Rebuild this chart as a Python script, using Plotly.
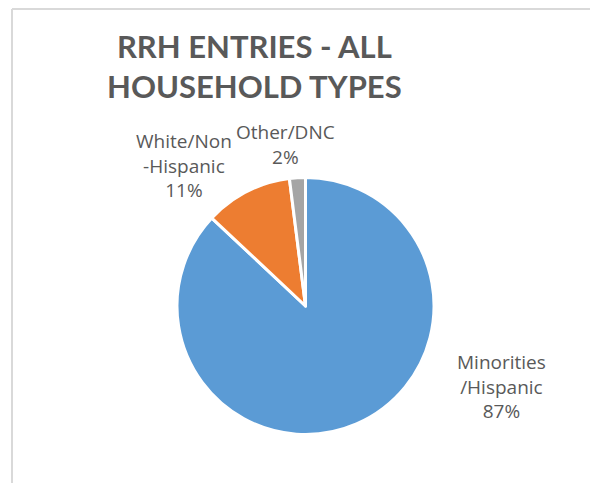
import plotly.graph_objects as go

labels = ["Minorities/Hispanic", "White/Non-Hispanic", "Other/DNC"]
label_lines = [["Minorities", "/Hispanic"], ["White/Non", "-Hispanic"], ["Other/DNC"]]
values = [87, 11, 2]
colors = ["#5B9BD5", "#ED7D31", "#A5A5A5"]
title_lines = ["RRH ENTRIES - ALL", "HOUSEHOLD TYPES"]

# page body has an 8px margin; figure is sized to fit the 598x483 window
OFF = 8
W, H = 598 - OFF, 483 - OFF

def px(x):
    return (x - OFF) / W

def py(y):
    return 1 - (y - OFF) / H

cx, cy, r = 305.5, 306, 128.5

fig = go.Figure(go.Pie(
    labels=labels,
    values=values,
    marker=dict(colors=colors, line=dict(color="white", width=3)),
    sort=False,
    direction="clockwise",
    rotation=0,
    textinfo="none",
    hoverinfo="label+percent",
    showlegend=False,
    domain=dict(x=[px(cx - r), px(cx + r)], y=[py(cy + r), py(cy - r)]),
))

total = sum(values)
label_pos = [(501.5, 386), (184, 166), (285.5, 144)]
annotations = []
for lines, v, (lx, ly) in zip(label_lines, values, label_pos):
    pct = f"{round(100 * v / total)}%"
    annotations.append(dict(
        text="<br>".join(lines + [pct]),
        x=px(lx), y=py(ly), xref="paper", yref="paper",
        xanchor="center", yanchor="middle", showarrow=False,
        font=dict(family="Open Sans", size=19, color="#595959"),
        align="center",
    ))

annotations.append(dict(
    text="<b>" + "<br>".join(title_lines) + "</b>",
    x=px(254), y=py(66), xref="paper", yref="paper",
    xanchor="center", yanchor="middle", showarrow=False,
    font=dict(family="Lato", size=31, color="#595959"),
    align="center",
))

fig.update_layout(
    width=W, height=H,
    margin=dict(l=0, r=0, t=0, b=0),
    paper_bgcolor="white",
    plot_bgcolor="white",
    annotations=annotations,
    shapes=[
        dict(type="line", xref="paper", yref="paper", x0=px(12), x1=px(12), y0=0, y1=py(9),
             line=dict(color="#D9D9D9", width=2)),
        dict(type="line", xref="paper", yref="paper", x0=px(12), x1=1, y0=py(9), y1=py(9),
             line=dict(color="#D9D9D9", width=2)),
    ],
)

fig.write_html("out.html")
